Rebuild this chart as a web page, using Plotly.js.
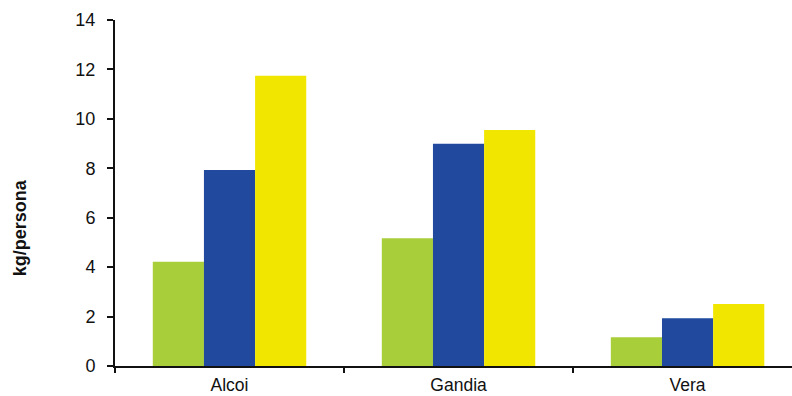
<!DOCTYPE html>
<html>
<head>
<meta charset="utf-8">
<script src="https://cdn.plot.ly/plotly-3.0.1.min.js"></script>
<style>html,body{margin:0;padding:0;background:#fff;}#chart{width:792px;height:396px;}</style>
</head>
<body>
<div id="chart"></div>
<script>
const categories = ["Alcoi", "Gandia", "Vera"];
const seriesGreen = [4.22, 5.17, 1.16];
const seriesBlue = [7.93, 8.99, 1.93];
const seriesYellow = [11.74, 9.55, 2.51];
const yTickValues = [0, 2, 4, 6, 8, 10, 12, 14];
const yTitle = "kg/persona";

const colors = ["#A8CE3A", "#214A9E", "#F0E600"];
const series = [seriesGreen, seriesBlue, seriesYellow];
const traces = series.map((vals, i) => ({
  type: "bar",
  x: categories,
  y: vals,
  marker: {color: colors[i], line: {width: 0}},
  hoverinfo: "skip",
  showlegend: false
}));

const layout = {
  width: 792, height: 396,
  margin: {l: 115, r: 0, t: 20, b: 30},
  paper_bgcolor: "#ffffff", plot_bgcolor: "#ffffff",
  barmode: "group", bargap: 0.33, bargroupgap: 0,
  font: {family: "Liberation Sans, Arial, sans-serif", color: "#111", size: 18},
  xaxis: {
    type: "category",
    range: [-0.5, 2.456],
    showgrid: false, zeroline: false,
    showline: true, linecolor: "#111", linewidth: 2,
    ticks: "outside", tickson: "boundaries", ticklen: 5, tickwidth: 2, tickcolor: "#111",
    ticklabelstandoff: 2,
    tickfont: {size: 17.5, color: "#111"}
  },
  yaxis: {
    range: [0, 14],
    tickvals: yTickValues,
    showgrid: false, zeroline: false,
    showline: true, linecolor: "#111", linewidth: 2,
    ticks: "outside", ticklen: 6, tickwidth: 2, tickcolor: "#111",
    ticklabelstandoff: 8,
    tickfont: {size: 18, color: "#111"}
  },
  annotations: [{
    text: "<b>" + yTitle + "</b>",
    xref: "paper", yref: "paper",
    x: -0.140, y: 0.399,
    xanchor: "center", yanchor: "middle",
    textangle: -90, showarrow: false,
    font: {size: 18, color: "#111"}
  }]
};

Plotly.newPlot("chart", traces, layout, {staticPlot: true, displayModeBar: false});
</script>
</body>
</html>
